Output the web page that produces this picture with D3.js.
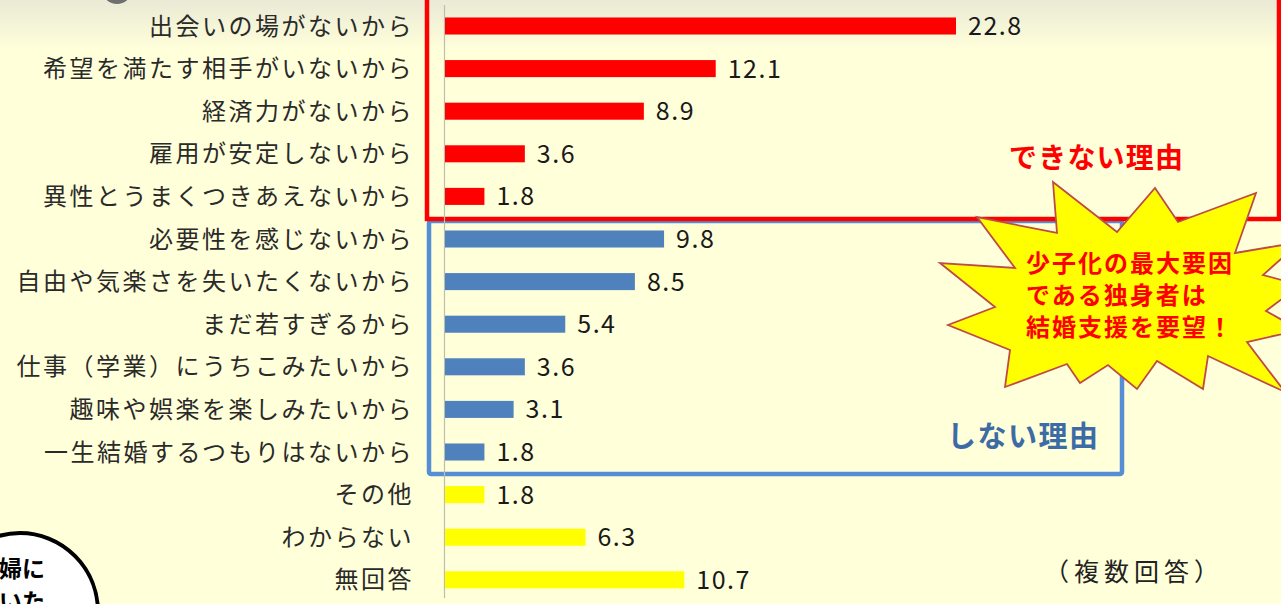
<!DOCTYPE html>
<html>
<head>
<meta charset="utf-8">
<script src="https://cdn.jsdelivr.net/npm/d3@7/dist/d3.min.js"></script>
<style>
  html, body { margin: 0; padding: 0; background: #FFFFDA; overflow: hidden; }
  svg { display: block; }
</style>
</head>
<body>
<svg width="1281" height="604"></svg>
<script>
// data (%)
const categories = [
    "出会いの場がないから",
    "希望を満たす相手がいないから",
    "経済力がないから",
    "雇用が安定しないから",
    "異性とうまくつきあえないから",
    "必要性を感じないから",
    "自由や気楽さを失いたくないから",
    "まだ若すぎるから",
    "仕事（学業）にうちこみたいから",
    "趣味や娯楽を楽しみたいから",
    "一生結婚するつもりはないから",
    "その他",
    "わからない",
    "無回答"
];
const values = [22.8, 12.1, 8.9, 3.6, 1.8, 9.8, 8.5, 5.4, 3.6, 3.1, 1.8, 1.8, 6.3, 10.7];
const groups = ["cannot", "cannot", "cannot", "cannot", "cannot",
    "not", "not", "not", "not", "not", "not",
    "other", "other", "other"];
const groupColors = {cannot: "#FF0000", not: "#4F81BD", other: "#FFFF00"};

const burstLines = ["少子化の最大要因", "である独身者は", "結婚支援を要望！"];

const svg = d3.select("svg");
const width = +svg.attr("width");
const height = +svg.attr("height");
const jp = "'Noto Sans CJK JP', 'Noto Sans', sans-serif";

const defs = svg.append("defs");
const grad = defs.append("linearGradient")
    .attr("id", "topfade")
    .attr("x1", 0).attr("y1", 0).attr("x2", 0).attr("y2", 1);
grad.append("stop").attr("offset", "0%").attr("stop-color", "#EAEAD6");
grad.append("stop").attr("offset", "100%").attr("stop-color", "#FFFFDA");

svg.append("rect")
    .attr("width", width).attr("height", height)
    .attr("fill", "#FFFFDA");
svg.append("rect")
    .attr("width", width).attr("height", 50)
    .attr("fill", "url(#topfade)");

// little grey blob peeking in at the top
svg.append("ellipse")
    .attr("cx", 117).attr("cy", -9)
    .attr("rx", 14).attr("ry", 13)
    .attr("fill", "#6f6f6f");

const x = d3.scaleLinear()
    .domain([0, 22.8])
    .range([444, 956]);

const y = d3.scaleBand()
    .domain(categories)
    .range([4.7, 601.1])
    .paddingInner(0.6)
    .paddingOuter(0.3);

// group boxes
svg.append("rect")
    .attr("x", 429).attr("y", 221)
    .attr("width", 693).attr("height", 253)
    .attr("rx", 2)
    .attr("fill", "none")
    .attr("stroke", "#558ED5")
    .attr("stroke-width", 4.5);

svg.append("rect")
    .attr("x", 427).attr("y", -10)
    .attr("width", 852).attr("height", 229)
    .attr("fill", "none")
    .attr("stroke", "#FF0000")
    .attr("stroke-width", 4.5);

// axis
svg.append("line")
    .attr("x1", x(0) + 0.5).attr("x2", x(0) + 0.5)
    .attr("y1", 5).attr("y2", 598)
    .attr("stroke", "#BDBDB0")
    .attr("stroke-width", 1.2);

svg.append("g")
    .selectAll("rect")
    .data(values)
    .join("rect")
    .attr("x", x(0) + 1)
    .attr("y", (d, i) => y(categories[i]))
    .attr("width", d => x(d) - x(0) - 1)
    .attr("height", y.bandwidth())
    .attr("fill", (d, i) => groupColors[groups[i]]);

svg.append("g")
    .selectAll("text")
    .data(categories)
    .join("text")
    .attr("x", 414)
    .attr("y", d => y(d) + y.bandwidth() / 2)
    .attr("dy", "0.36em")
    .attr("text-anchor", "end")
    .attr("font-family", jp)
    .attr("font-size", 24)
    .attr("letter-spacing", 2.5)
    .attr("fill", "#2a2a2a")
    .text(d => d);

svg.append("g")
    .selectAll("text")
    .data(values)
    .join("text")
    .attr("x", d => x(d) + 12)
    .attr("y", (d, i) => y(categories[i]) + y.bandwidth() / 2)
    .attr("dy", "0.36em")
    .attr("font-family", jp)
    .attr("font-size", 25)
    .attr("letter-spacing", 1.5)
    .attr("fill", "#1a1a1a")
    .text(d => d.toFixed(1));

svg.append("text")
    .attr("x", 1009).attr("y", 168)
    .attr("font-family", jp)
    .attr("font-size", 28)
    .attr("font-weight", 700)
    .attr("letter-spacing", 1.2)
    .attr("fill", "#FF0000")
    .text("できない理由");

svg.append("text")
    .attr("x", 947).attr("y", 447)
    .attr("font-family", jp)
    .attr("font-size", 29)
    .attr("font-weight", 700)
    .attr("letter-spacing", 1.5)
    .attr("fill", "#3D6BA6")
    .text("しない理由");

svg.append("text")
    .attr("x", 1044).attr("y", 581)
    .attr("font-family", jp)
    .attr("font-size", 25)
    .attr("letter-spacing", 5)
    .attr("fill", "#222")
    .text("（複数回答）");

// starburst callout
const burst = [
    [1053, 182], [1117, 232], [1155, 188], [1178, 222], [1256, 193], [1235, 253],
    [1300, 242], [1263, 275], [1300, 285], [1266, 311], [1300, 330], [1247, 342],
    [1285, 392], [1208, 356], [1203, 389], [1157, 361], [1137, 389], [1108, 365],
    [1080, 383], [1067, 364], [1005, 387], [1010, 350], [948, 325], [995, 307],
    [940, 263], [1015, 268], [977, 217], [1057, 233]
];
svg.append("path")
    .attr("d", function () {
        const path = d3.path();
        path.moveTo(burst[0][0], burst[0][1]);
        burst.slice(1).forEach(([px, py]) => path.lineTo(px, py));
        path.closePath();
        return path.toString();
    })
    .attr("fill", "#FFFF00")
    .attr("stroke", "#BE4B48")
    .attr("stroke-width", 1.8)
    .attr("stroke-linejoin", "miter");

svg.append("g")
    .selectAll("text")
    .data(burstLines)
    .join("text")
    .attr("x", 1026)
    .attr("y", (d, i) => 272 + i * 32)
    .attr("font-family", jp)
    .attr("font-size", 24)
    .attr("font-weight", 700)
    .attr("letter-spacing", 2)
    .attr("fill", "#FF0000")
    .text(d => d);

// speech bubble cut off at the bottom left
svg.append("ellipse")
    .attr("cx", 20).attr("cy", 612)
    .attr("rx", 78).attr("ry", 79)
    .attr("fill", "#FFFFFF")
    .attr("stroke", "#000")
    .attr("stroke-width", 4);

svg.append("text")
    .attr("x", -1).attr("y", 577)
    .attr("font-family", jp)
    .attr("font-size", 23)
    .attr("font-weight", 700)
    .attr("fill", "#000")
    .text("婦に");
svg.append("text")
    .attr("x", -1).attr("y", 610)
    .attr("font-family", jp)
    .attr("font-size", 23)
    .attr("font-weight", 700)
    .attr("fill", "#000")
    .text("いた");
</script>
</body>
</html>
